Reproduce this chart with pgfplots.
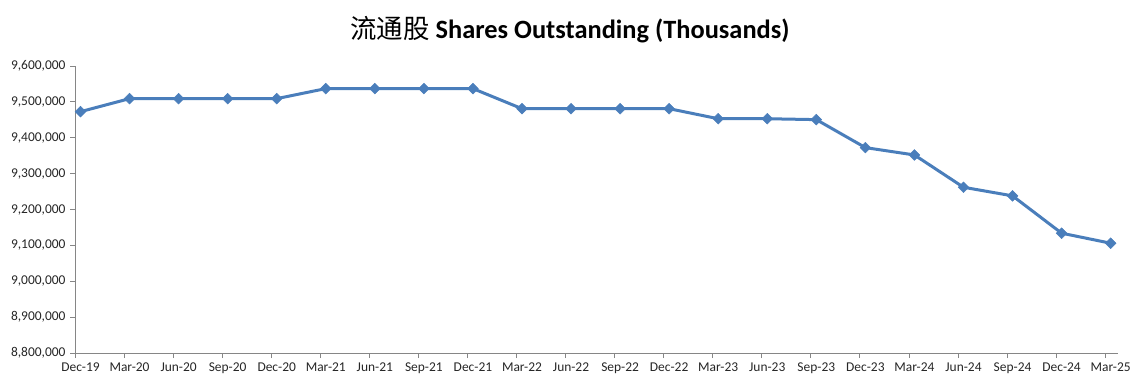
\documentclass[border=0pt]{standalone}
\usepackage{pgfplots}
\pgfplotsset{compat=1.18}
\usepackage{fontspec}
\setmainfont{Carlito}
\newfontfamily\cjk{Noto Sans CJK SC}
\definecolor{serblue}{HTML}{4A7EBB}
\definecolor{axgray}{HTML}{868686}
\begin{document}
\begin{tikzpicture}[x=1bp,y=1bp]
\path[use as bounding box] (0,0) rectangle (1143,389);
\node[font=\fontsize{26.5}{30}\selectfont] at (570,359) {{\cjk 流通股} \textbf{Shares Outstanding (Thousands)}};
\begin{axis}[
  at={(75bp,36bp)}, anchor=south west,
  scale only axis, width=1043bp, height=287bp,
  xmin=-0.112, xmax=21.15,
  ymin=8800000, ymax=9600000,
  axis x line*=bottom, axis y line*=left,
  axis line style={axgray, line width=0.8bp},
  xtick={0,...,21},
  xticklabels={Dec-19,Mar-20,Jun-20,Sep-20,Dec-20,Mar-21,Jun-21,Sep-21,Dec-21,Mar-22,Jun-22,Sep-22,Dec-22,Mar-23,Jun-23,Sep-23,Dec-23,Mar-24,Jun-24,Sep-24,Dec-24,Mar-25},
  minor xtick={-0.112,0.888,1.888,2.888,3.888,4.888,5.888,6.888,7.888,8.888,9.888,10.888,11.888,12.888,13.888,14.888,15.888,16.888,17.888,18.888,19.888,20.888},
  x tick style={draw=none},
  minor x tick style={draw=axgray, line width=0.8bp},
  minor tick length=5bp,
  ytick={8800000,8900000,9000000,9100000,9200000,9300000,9400000,9500000,9600000},
  y tick style={draw=axgray, line width=0.8bp},
  major tick length=5bp,
  tick align=outside,
  scaled y ticks=false,
  /pgf/number format/fixed,
  /pgf/number format/1000 sep={,},
  /pgf/number format/assume math mode=true,
  ticklabel style={font=\fontsize{13.5}{15}\selectfont, text=black!85},
  xticklabel style={yshift=-1bp},
  yticklabel style={xshift=-1bp},
  clip=false,
]
\addplot[serblue, line width=3bp, mark=square*, mark size=3.8bp, mark options={rotate=45, fill=serblue, draw=serblue, line width=0.5bp}]
coordinates {
(0,9472700) (1,9509000) (2,9509000) (3,9509000) (4,9509000)
(5,9537000) (6,9537000) (7,9537000) (8,9537000)
(9,9481000) (10,9481000) (11,9481000) (12,9481000)
(13,9453000) (14,9453000) (15,9450500)
(16,9372500) (17,9352000) (18,9262000) (19,9238000)
(20,9134000) (21,9106000)
};
\end{axis}
\end{tikzpicture}
\end{document}
